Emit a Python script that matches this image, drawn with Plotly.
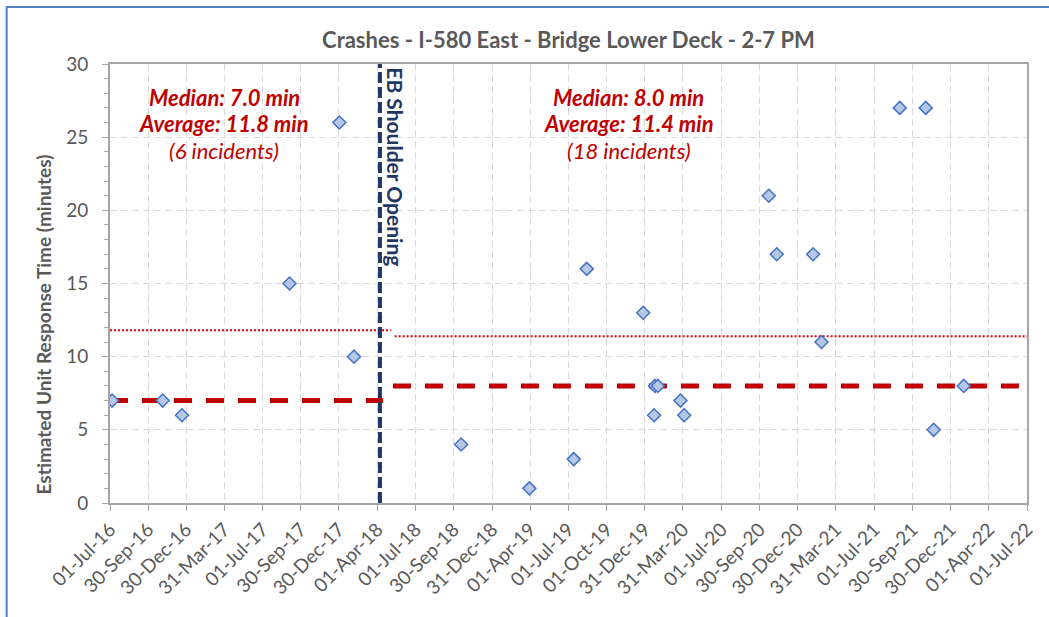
import plotly.graph_objects as go
from datetime import datetime

# Incident dates and estimated unit response times (minutes)
before_dates = ["2016-07-06", "2016-11-04", "2016-12-20", "2017-09-03", "2017-12-31", "2018-02-04"]
before_minutes = [7, 7, 6, 15, 26, 10]

after_dates = ["2018-10-18", "2019-03-30", "2019-07-14", "2019-08-14", "2019-12-27",
               "2020-01-24", "2020-01-31", "2020-01-22", "2020-03-25", "2020-04-03",
               "2020-10-22", "2020-11-10", "2021-02-05", "2021-02-25", "2021-08-31",
               "2021-11-01", "2021-11-20", "2022-01-31"]
after_minutes = [4, 1, 3, 16, 13, 8, 8, 6, 7, 6, 21, 17, 17, 11, 27, 27, 5, 8]

# Summary statistics per period
before_median, before_average, before_count = 7.0, 11.8, 6
after_median, after_average, after_count = 8.0, 11.4, 18

# Period boundaries
opening_date = "2018-04-07"
axis_start, axis_end = "2016-07-01", "2022-07-01"
before_median_end, before_average_end = "2018-04-14", "2018-05-03"
after_median_start, after_average_start = "2018-05-08", "2018-05-12"

tick_labels = ["01-Jul-16", "30-Sep-16", "30-Dec-16", "31-Mar-17", "01-Jul-17", "30-Sep-17",
               "30-Dec-17", "01-Apr-18", "01-Jul-18", "30-Sep-18", "31-Dec-18", "01-Apr-19",
               "01-Jul-19", "01-Oct-19", "31-Dec-19", "31-Mar-20", "01-Jul-20", "30-Sep-20",
               "30-Dec-20", "31-Mar-21", "01-Jul-21", "30-Sep-21", "30-Dec-21", "01-Apr-22",
               "01-Jul-22"]
tick_vals = [datetime.strptime(t, "%d-%b-%y") for t in tick_labels]

FONT = "Lato"
GRAY = "#595959"
RED = "#c00000"
NAVY = "#1f3864"

fig = go.Figure()

# Median (dashed) and average (dotted) reference lines for each period
fig.add_trace(go.Scatter(x=[axis_start, before_median_end], y=[before_median, before_median],
                         mode="lines", line=dict(color=RED, width=5, dash="18px,14px"),
                         hoverinfo="skip", showlegend=False))
fig.add_trace(go.Scatter(x=[after_median_start, axis_end], y=[after_median, after_median],
                         mode="lines", line=dict(color=RED, width=5, dash="18px,14px"),
                         hoverinfo="skip", showlegend=False))
fig.add_trace(go.Scatter(x=[axis_start, before_average_end], y=[before_average, before_average],
                         mode="lines", line=dict(color="#e00000", width=2, dash="2px,2px"),
                         hoverinfo="skip", showlegend=False))
fig.add_trace(go.Scatter(x=[after_average_start, axis_end], y=[after_average, after_average],
                         mode="lines", line=dict(color="#e00000", width=2, dash="2px,2px"),
                         hoverinfo="skip", showlegend=False))

# Opening date marker
fig.add_trace(go.Scatter(x=[opening_date, opening_date], y=[0, 30], mode="lines",
                         line=dict(color=NAVY, width=4, dash="11px,4px"),
                         hoverinfo="skip", showlegend=False))

# Incidents
marker = dict(symbol="diamond", size=10, color="#b4c7e7", line=dict(color="#4472c4", width=1.5))
fig.add_trace(go.Scatter(x=before_dates, y=before_minutes, mode="markers", marker=marker,
                         showlegend=False))
fig.add_trace(go.Scatter(x=after_dates, y=after_minutes, mode="markers", marker=marker,
                         showlegend=False))

annotations = []

def stats_block(xc, median, average, count):
    lines = [
        (f"<b><i>Median: {median:.1f} min</i></b>", 0.9248),
        (f"<b><i>Average: {average:.1f} min</i></b>", 0.8656),
        (f"<i>({count} incidents)</i>", 0.8041),
    ]
    for text, yp in lines:
        annotations.append(dict(x=xc, y=yp, xref="paper", yref="paper", text=text,
                                showarrow=False, xanchor="center", yanchor="middle",
                                font=dict(family=FONT, size=22, color=RED)))

stats_block(0.1246, before_median, before_average, before_count)
stats_block(0.5655, after_median, after_average, after_count)

annotations.append(dict(x=0.311, y=0.7665, xref="paper", yref="paper",
                        text="<b>EB Shoulder Opening</b>", textangle=90, showarrow=False,
                        xanchor="center", yanchor="middle",
                        font=dict(family=FONT, size=21, color=NAVY)))

annotations.append(dict(x=-0.0726, y=0.4077, xref="paper", yref="paper",
                        text="<b>Estimated Unit Response Time (minutes)</b>", textangle=-90,
                        showarrow=False, xanchor="center", yanchor="middle",
                        font=dict(family=FONT, size=19, color=GRAY)))

fig.update_layout(
    width=1049, height=617,
    margin=dict(l=110, r=16, t=64, b=114),
    paper_bgcolor="white", plot_bgcolor="white",
    title=dict(text="<b>Crashes - I-580 East - Bridge Lower Deck - 2-7 PM</b>",
               x=0.5, xref="paper", xanchor="center", y=1 - 40 / 617, yanchor="middle",
               font=dict(family=FONT, size=22, color=GRAY)),
    annotations=annotations,
    shapes=[dict(type="rect", xref="paper", yref="paper", x0=-0.1127, y0=-0.5, x1=1.2, y1=1.1298,
                 line=dict(color="#4f81bd", width=2), fillcolor="rgba(0,0,0,0)", layer="below")],
    xaxis=dict(type="date", range=[axis_start, axis_end], tickvals=tick_vals, ticktext=tick_labels,
               tickangle=-45, tickfont=dict(family=FONT, size=19, color=GRAY),
               showgrid=True, gridcolor="#d9d9d9", gridwidth=1.3, griddash="7px,4px",
               showline=True, linecolor="#a6a6a6", linewidth=2, mirror=True,
               ticks="outside", ticklen=6, tickcolor="#a6a6a6", tickwidth=1.3, zeroline=False),
    yaxis=dict(range=[0, 30], tickvals=[0, 5, 10, 15, 20, 25, 30],
               tickfont=dict(family=FONT, size=19, color=GRAY), ticklabelstandoff=10,
               showgrid=True, gridcolor="#d9d9d9", gridwidth=1.3, griddash="7px,4px",
               showline=True, linecolor="#a6a6a6", linewidth=2, mirror=True,
               ticks="outside", ticklen=6, tickcolor="#a6a6a6", tickwidth=1.3, zeroline=False,
               minor=dict(dtick=1, ticks="outside", ticklen=4, tickcolor="#a6a6a6", showgrid=False)),
)

fig.write_html("out.html")
